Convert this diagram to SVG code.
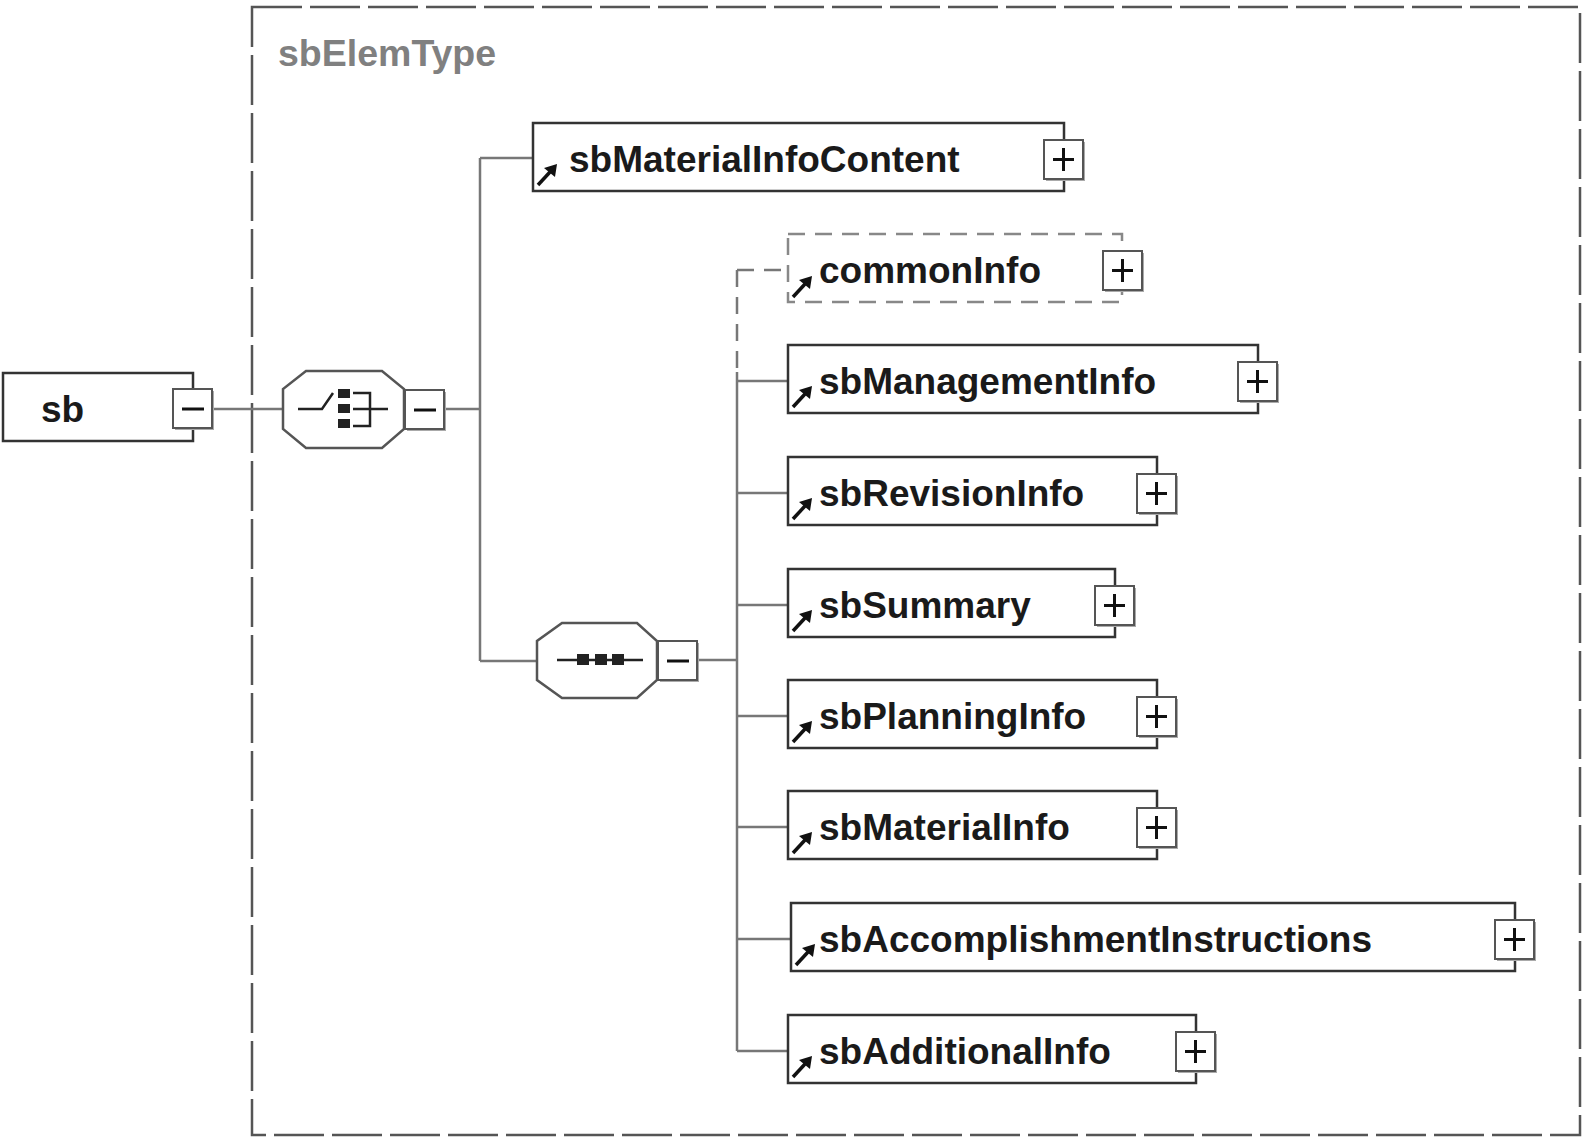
<svg xmlns="http://www.w3.org/2000/svg" xmlns:xlink="http://www.w3.org/1999/xlink" width="1587" height="1143" viewBox="0 0 1587 1143">
<style>
.bg{fill:#fff}
.frame{fill:none;stroke:#555;stroke-width:2.5;stroke-dasharray:50 8}
.title{font-family:"Liberation Sans",Arial,sans-serif;font-weight:bold;font-size:37.5px;fill:#808080}
.box{fill:#fff;stroke:#333;stroke-width:2.5}
.opt{fill:#fff;stroke:#888;stroke-width:2.5;stroke-dasharray:17 10}
.pm{fill:#fff;stroke:#555;stroke-width:2}
.pms{fill:#aaa}
.sign{stroke:#111;stroke-width:3}
.lbl{font-family:"Liberation Sans",Arial,sans-serif;font-weight:bold;font-size:37px;fill:#1a1a1a}
.con{stroke:#777;stroke-width:2.5;fill:none}
.dcon{stroke:#777;stroke-width:2.5;fill:none;stroke-dasharray:17 10}
.oct{fill:#fff;stroke:#555;stroke-width:2.5}
.sym{stroke:#222;stroke-width:2.5;fill:none}
.sq{fill:#222}
</style>
<defs>
<g id="ref"><line x1="0" y1="0" x2="12" y2="-13" stroke="#111" stroke-width="3.5"/><polygon points="19,-21 17,-8 6,-17" fill="#111"/></g>
<g id="plus"><rect x="2" y="2" width="39" height="39" class="pms"/><rect x="0" y="0" width="39" height="39" class="pm"/><line x1="9" y1="19.5" x2="30" y2="19.5" class="sign"/><line x1="19.5" y1="8" x2="19.5" y2="31" class="sign"/></g>
<g id="minus"><rect x="2" y="2" width="39" height="39" class="pms"/><rect x="0" y="0" width="39" height="39" class="pm"/><line x1="9" y1="20" x2="31" y2="20" class="sign"/></g>
</defs>
<rect class="bg" x="0" y="0" width="1587" height="1143"/>

<g id="sbElemType">
<rect class="frame" x="252" y="7" width="1328" height="1128"/>
<text class="title" x="278" y="66">sbElemType</text>
</g>

<g id="connectors">
<line class="con" x1="212" y1="409" x2="283" y2="409"/>
<line class="con" x1="444" y1="409" x2="480" y2="409"/>
<line class="con" x1="480" y1="158" x2="480" y2="661"/>
<line class="con" x1="480" y1="158" x2="533" y2="158"/>
<line class="con" x1="480" y1="661" x2="537" y2="661"/>
<line class="con" x1="697" y1="660" x2="737" y2="660"/>
<line class="dcon" x1="737" y1="270" x2="737" y2="372"/>
<line class="con" x1="737" y1="372" x2="737" y2="1051"/>
<line class="dcon" x1="737" y1="270" x2="788" y2="270"/>
<line class="con" x1="737" y1="381" x2="788" y2="381"/>
<line class="con" x1="737" y1="493" x2="788" y2="493"/>
<line class="con" x1="737" y1="605" x2="788" y2="605"/>
<line class="con" x1="737" y1="716" x2="788" y2="716"/>
<line class="con" x1="737" y1="827" x2="788" y2="827"/>
<line class="con" x1="737" y1="939" x2="791" y2="939"/>
<line class="con" x1="737" y1="1051" x2="788" y2="1051"/>
</g>

<g id="sb">
<rect class="box" x="3" y="373" width="190" height="68"/>
<text class="lbl" x="41" y="422">sb</text>
<use xlink:href="#minus" x="173" y="389"/>
</g>

<g id="choice">
<polygon class="oct" points="306,371 382,371 404,389 404,429 382,448 306,448 283,429 283,389"/>
<polyline class="sym" points="298,409 322,409 333,393"/>
<rect class="sq" x="338" y="389" width="12" height="9"/>
<rect class="sq" x="338" y="404" width="12" height="9"/>
<rect class="sq" x="338" y="419" width="12" height="9"/>
<path class="sym" d="M353,393 H370 V426 H353 M353,409 H388"/>
<use xlink:href="#minus" x="405" y="390"/>
</g>

<g id="sbMaterialInfoContent">
<rect class="box" x="533" y="123" width="531" height="68"/>
<use xlink:href="#ref" x="538" y="185"/>
<text class="lbl" x="569" y="172">sbMaterialInfoContent</text>
<use xlink:href="#plus" x="1044" y="140"/>
</g>

<g id="sequence">
<polygon class="oct" points="562,623 637,623 657,641 657,680 637,698 562,698 537,680 537,641"/>
<line class="sym" x1="557" y1="660" x2="643" y2="660"/>
<rect class="sq" x="577" y="654" width="12" height="11"/>
<rect class="sq" x="595" y="654" width="12" height="11"/>
<rect class="sq" x="612" y="654" width="12" height="11"/>
<use xlink:href="#minus" x="658" y="641"/>
</g>

<g id="commonInfo">
<rect class="opt" x="788" y="234" width="334" height="68"/>
<use xlink:href="#ref" x="793" y="297"/>
<text class="lbl" x="819" y="283">commonInfo</text>
<use xlink:href="#plus" x="1103" y="251"/>
</g>

<g id="sbManagementInfo">
<rect class="box" x="788" y="345" width="470" height="68"/>
<use xlink:href="#ref" x="793" y="407"/>
<text class="lbl" x="819" y="394">sbManagementInfo</text>
<use xlink:href="#plus" x="1238" y="362"/>
</g>

<g id="sbRevisionInfo">
<rect class="box" x="788" y="457" width="369" height="68"/>
<use xlink:href="#ref" x="793" y="519"/>
<text class="lbl" x="819" y="506">sbRevisionInfo</text>
<use xlink:href="#plus" x="1137" y="474"/>
</g>

<g id="sbSummary">
<rect class="box" x="788" y="569" width="327" height="68"/>
<use xlink:href="#ref" x="793" y="631"/>
<text class="lbl" x="819" y="618">sbSummary</text>
<use xlink:href="#plus" x="1095" y="586"/>
</g>

<g id="sbPlanningInfo">
<rect class="box" x="788" y="680" width="369" height="68"/>
<use xlink:href="#ref" x="793" y="742"/>
<text class="lbl" x="819" y="729">sbPlanningInfo</text>
<use xlink:href="#plus" x="1137" y="697"/>
</g>

<g id="sbMaterialInfo">
<rect class="box" x="788" y="791" width="369" height="68"/>
<use xlink:href="#ref" x="793" y="853"/>
<text class="lbl" x="819" y="840">sbMaterialInfo</text>
<use xlink:href="#plus" x="1137" y="808"/>
</g>

<g id="sbAccomplishmentInstructions">
<rect class="box" x="791" y="903" width="724" height="68"/>
<use xlink:href="#ref" x="796" y="965"/>
<text class="lbl" x="819" y="952">sbAccomplishmentInstructions</text>
<use xlink:href="#plus" x="1495" y="920"/>
</g>

<g id="sbAdditionalInfo">
<rect class="box" x="788" y="1015" width="408" height="68"/>
<use xlink:href="#ref" x="793" y="1077"/>
<text class="lbl" x="819" y="1064">sbAdditionalInfo</text>
<use xlink:href="#plus" x="1176" y="1032"/>
</g>
</svg>
